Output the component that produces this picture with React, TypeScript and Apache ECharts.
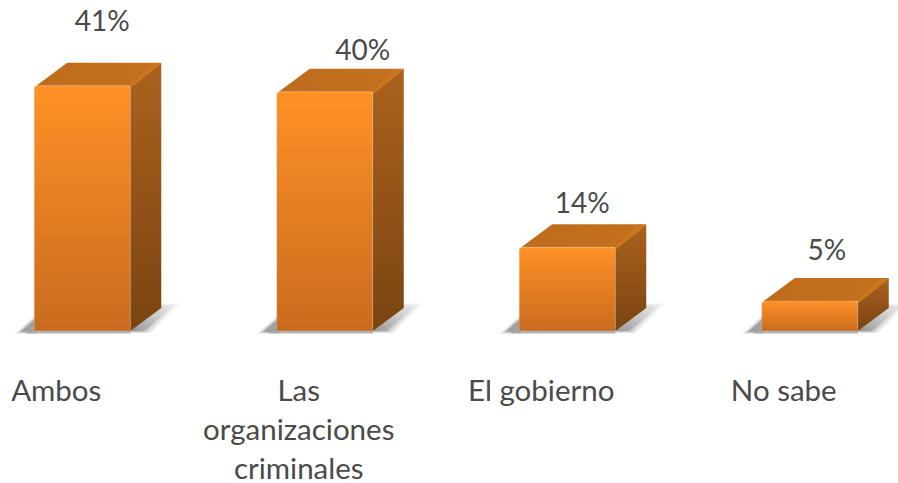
import React, { useEffect, useRef } from "react";
import * as echarts from "echarts";

const categories = ["Ambos", "Las\norganizaciones\ncriminales", "El gobierno", "No sabe"];
const values = [41, 40, 14, 5];
const valueLabels = ["41%", "40%", "14%", "5%"];
// Hand-placed label offsets as in the reference (dx from the axis label centre, dy above the back edge)
const labelDx = [46, 64, 41, 43];
const labelDy = [43, 20, 22, 29];

const FONT = "Lato, 'Open Sans', sans-serif";
const TEXT = "#4A4A4A";
const linear = (x: number, y: number, x2: number, y2: number, a: string, b: string) =>
  new echarts.graphic.LinearGradient(x, y, x2, y2, [
    { offset: 0, color: a },
    { offset: 1, color: b },
  ]);

function renderItem(params: any, api: any) {
  const i = api.value(0);
  const [cx, top] = api.coord([i, api.value(1)]);
  const [, base] = api.coord([i, 0]);
  const xShift = 26; const hw = 48; const dx = 31; const dy = 23;
  const l = cx + xShift - hw, r = cx + xShift + hw;
  const poly = (points: number[][], fill: any) => ({
    type: "polygon", shape: { points }, style: { fill },
  });
  const leftShadow = (g: number, c: string) =>
    poly([[l - 14 - g * 3, base + 1 + g], [l + 2, base - 13 - g * 2], [l + 2, base + 1 + g]], c);
  const rightShadow = (g: number, a: number) =>
    poly([[r - 4, base + g], [r + dx - 4, base - dy - 3 - g], [r + dx + 14 + g * 3, base - dy - 3 - g], [r + 14 + g * 3, base + g]],
      linear(0, 1, 1, 0, `rgba(90,90,90,${a})`, `rgba(170,170,170,${a * 0.25})`));
  return {
    type: "group",
    children: [
      leftShadow(2, "rgba(120,120,120,0.14)"),
      leftShadow(1, "rgba(110,110,110,0.22)"),
      leftShadow(0, "rgba(90,90,90,0.4)"),
      rightShadow(2, 0.2),
      rightShadow(1, 0.25),
      rightShadow(0, 0.45),
      { type: "rect", shape: { x: l - 8, y: base, width: hw * 2 + 8, height: 2.5 }, style: { fill: "rgba(165,165,165,0.85)" } },
      poly([[l + 2, top], [l + dx + 2, top - dy], [r + dx, top - dy], [r, top]], linear(0, 0, 1, 0, "#BE6C1C", "#C4701E")),
      poly([[r, top + 1], [r + dx, top - dy], [r + dx, base - dy], [r, base]], linear(0, 0, 0, 1, "#AB621E", "#7A4411")),
      poly([[r - 1, top], [r + dx - 8, top - dy], [r + dx, top - dy + 1], [r + 1, top + 2]], "#CB7720"),
      { type: "rect", shape: { x: l, y: top, width: hw * 2, height: base - top, r: [3, 3, 0, 0] }, style: { fill: linear(0, 0, 0, 1, "#FF9126", "#C96B1F"), stroke: "rgba(205,205,205,0.6)", lineWidth: 0.5 } },
      { type: "text", style: { text: valueLabels[i], x: cx + labelDx[i], y: top - dy - labelDy[i], fill: TEXT, font: `28px ${FONT}`, align: "center", verticalAlign: "middle" } },
    ],
  };
}

export default function App() {
  const ref = useRef<HTMLDivElement>(null);
  useEffect(() => {
    const chart = echarts.init(ref.current!, null, { renderer: "svg" });
    chart.setOption({
      animation: false,
      backgroundColor: "#ffffff",
      grid: { left: -65, width: 970, top: 32, bottom: 152, outerBoundsMode: "none" },
      xAxis: {
        type: "category", data: categories,
        axisLine: { show: false }, axisTick: { show: false },
        axisLabel: { interval: 0, margin: 39, color: TEXT, fontFamily: FONT, fontSize: 29.5, lineHeight: 39, align: "center" },
      },
      yAxis: { type: "value", min: 0, max: 50, show: false, splitLine: { show: false } },
      series: [{
        type: "custom", renderItem, clip: false,
        encode: { x: 0, y: 1 },
        data: values.map((v, i) => [i, v]),
      }],
    });
    return () => chart.dispose();
  }, []);
  return <div ref={ref} style={{ position: "fixed", left: 0, top: 0, width: 898, height: 483 }} />;
}
